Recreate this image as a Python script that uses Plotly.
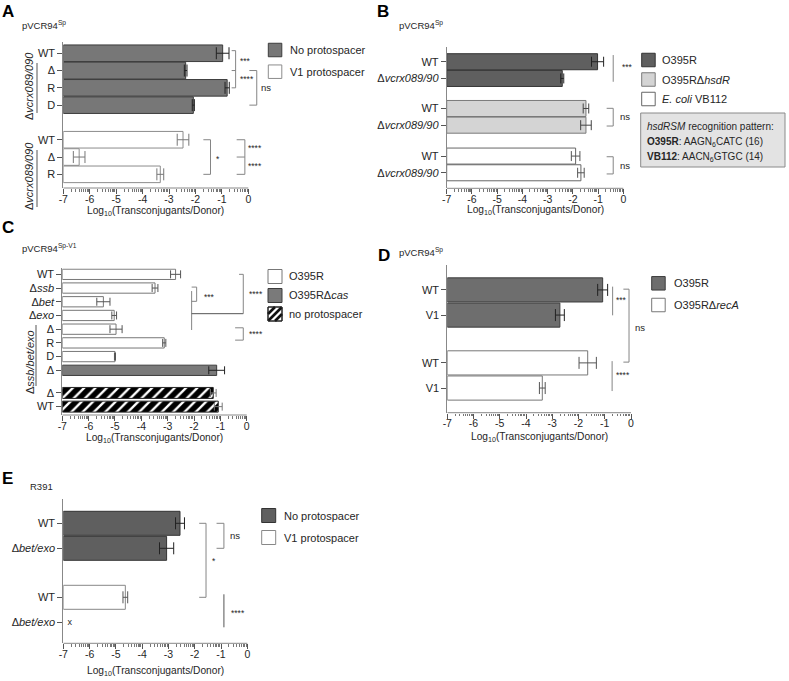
import math
import plotly.graph_objects as go

W, H = 789, 681
FONT = "Liberation Sans, Arial, Helvetica, sans-serif"
TXT = "#262626"

# ======================= DATA (log10 transconjugants/donor) =======================
# Panel A  (pVCR94Sp)
a_nop_labels = ["WT", "Δ", "R", "D"]
a_nop_vals = [-0.97, -2.37, -0.80, -2.08]
a_nop_err = [0.24, 0.05, 0.08, 0.04]
a_v1_labels = ["WT", "Δ", "R"]
a_v1_vals = [-2.47, -6.40, -3.33]
a_v1_err = [0.22, 0.22, 0.13]

# Panel B  (pVCR94Sp)
b_labels = ["WT", "Δ<i>vcrx089/90</i>"]
b_o395r_vals = [-1.02, -2.42]
b_o395r_err = [0.24, 0.06]
b_hsdr_vals = [-1.48, -1.48]
b_hsdr_err = [0.11, 0.21]
b_vb112_vals = [-1.89, -1.68]
b_vb112_err = [0.17, 0.13]

# Panel C  (pVCR94Sp-V1)
c_white_labels = ["WT", "Δ<i>ssb</i>", "Δ<i>bet</i>", "Δ<i>exo</i>", "Δ", "R", "D"]
c_white_vals = [-2.70, -3.48, -5.44, -5.03, -4.96, -3.13, -5.00]
c_white_err = [0.19, 0.11, 0.25, 0.09, 0.23, 0.06, 0.02]
c_cas_labels = ["Δ"]
c_cas_vals = [-1.14]
c_cas_err = [0.30]
c_nop_labels = ["Δ", "WT"]
c_nop_vals = [-1.27, -1.08]
c_nop_err = [0.11, 0.15]

# Panel D  (pVCR94Sp)
d_labels = ["WT", "V1"]
d_o395r_vals = [-1.08, -2.71]
d_o395r_err = [0.19, 0.17]
d_reca_vals = [-1.65, -3.38]
d_reca_err = [0.33, 0.11]

# Panel E  (R391)
e_labels = ["WT", "Δ<i>bet/exo</i>"]
e_nop_vals = [-2.56, -3.07]
e_nop_err = [0.17, 0.27]
e_v1_vals = [-4.64]
e_v1_err = [0.09]
e_v1_undetected = [-6.75]   # 'x' marker: no transconjugants

x_ticks = list(range(-7, 1))
x_ticktext = [str(t) for t in x_ticks]

# ======================= LAYOUT GEOMETRY =======================
XMIN = -7
EXT = 0.6
minor_vals = [d + math.log10(k) for d in range(-7, 0) for k in range(2, 10)]

panels = {
    1: dict(x0=63.3, x1=248.3, top=42, bot=188, yr=(-0.65, 7.79)),
    2: dict(x0=446.7, x1=623.3, top=46.7, bot=188.3, yr=(-0.9, 7.58)),
    3: dict(x0=62.3, x1=246.7, top=268.3, bot=415, yr=(-0.44, 10.26)),
    4: dict(x0=447.3, x1=631, top=265, bot=412.7, yr=(-0.99, 4.88)),
    5: dict(x0=63.3, x1=247.3, top=499.3, bot=643.3, yr=(-0.96, 4.8)),
}

# bar slots along each categorical (numeric) y axis
a_nop_pos, a_v1_pos = [0, 1, 2, 3], [5, 6, 7]
b_o_pos, b_h_pos, b_v_pos = [0, 1], [2.8, 3.8], [5.65, 6.65]
c_w_pos, c_c_pos, c_n_pos = [0, 1, 2, 3, 4, 5, 6], [7], [8.65, 9.65]
d_o_pos, d_r_pos = [0, 1], [2.9, 3.9]
e_n_pos, e_v_pos = [0, 1], [2.96, 3.96]

yticks = {
    1: (a_nop_pos + a_v1_pos, a_nop_labels + a_v1_labels),
    2: (b_o_pos + b_h_pos + b_v_pos, b_labels * 3),
    3: (c_w_pos + c_c_pos + c_n_pos, c_white_labels + c_cas_labels + c_nop_labels),
    4: (d_o_pos + d_r_pos, d_labels * 2),
    5: (e_n_pos + e_v_pos, e_labels * 2),
}


def sfx(n):
    return "" if n == 1 else str(n)


def px(x):
    return x / W


def py(y):
    return 1 - y / H


fig = go.Figure()


def add_bars(n, pos, vals, errs, fill, line, errcolor, capw, width, pattern=None):
    marker = dict(color=fill, line=dict(color=line, width=1))
    if pattern:
        marker["pattern"] = pattern
    fig.add_trace(go.Bar(
        orientation="h", y=pos, x=[v - XMIN for v in vals], base=XMIN,
        width=width, marker=marker,
        error_x=dict(type="data", array=errs, visible=True, color=errcolor,
                     thickness=1, width=capw),
        xaxis="x" + sfx(n), yaxis="y" + sfx(n), showlegend=False, hoverinfo="skip"))


# Panel A
add_bars(1, a_nop_pos, a_nop_vals, a_nop_err, "#777777", "#3c3c3c", "#222222", 6, 0.96)
add_bars(1, a_v1_pos, a_v1_vals, a_v1_err, "white", "#8c8c8c", "#777777", 6, 0.96)
# Panel B
add_bars(2, b_o_pos, b_o395r_vals, b_o395r_err, "#5f5f5f", "#333333", "#222222", 5, 0.96)
add_bars(2, b_h_pos, b_hsdr_vals, b_hsdr_err, "#d4d4d4", "#7a7a7a", "#444444", 5, 0.96)
add_bars(2, b_v_pos, b_vb112_vals, b_vb112_err, "white", "#666666", "#555555", 5, 0.96)
# Panel C
add_bars(3, c_w_pos, c_white_vals, c_white_err, "white", "#777777", "#555555", 4, 0.75)
add_bars(3, c_c_pos, c_cas_vals, c_cas_err, "#7a7a7a", "#3c3c3c", "#222222", 4, 0.75)
add_bars(3, c_n_pos, c_nop_vals, c_nop_err, "white", "#222222", "#777777", 4, 0.8,
         pattern=dict(shape="/", fgcolor="#000000", bgcolor="white", fgopacity=1,
                      size=8, solidity=0.7))
# Panel D
add_bars(4, d_o_pos, d_o395r_vals, d_o395r_err, "#6e6e6e", "#3c3c3c", "#222222", 6, 0.96)
add_bars(4, d_r_pos, d_reca_vals, d_reca_err, "white", "#777777", "#555555", 6, 0.96)
# Panel E
add_bars(5, e_n_pos, e_nop_vals, e_nop_err, "#5f5f5f", "#333333", "#222222", 6, 0.96)
add_bars(5, e_v_pos[:1], e_v1_vals, e_v1_err, "white", "#888888", "#555555", 6, 0.96)
fig.add_trace(go.Scatter(x=e_v1_undetected, y=e_v_pos[1:], mode="text", text=["x"],
                         textfont=dict(size=9, color=TXT), xaxis="x5", yaxis="y5",
                         showlegend=False, hoverinfo="skip"))

layout = dict(width=W, height=H, margin=dict(l=0, r=0, t=0, b=0),
              paper_bgcolor="white", plot_bgcolor="rgba(0,0,0,0)",
              barmode="overlay", showlegend=False,
              font=dict(family=FONT, size=11, color=TXT))
shapes, annos = [], []

for n, p in panels.items():
    s = sfx(n)
    scale = (p["x1"] - p["x0"]) / 7
    layout["xaxis" + s] = dict(
        domain=[px(p["x0"]), px(p["x1"] + EXT * scale)], range=[XMIN, EXT],
        anchor="y" + s, tickmode="array", tickvals=x_ticks, ticktext=x_ticktext,
        ticks="outside", ticklen=5, tickcolor="#555555", showline=False,
        showgrid=False, zeroline=False, tickfont=dict(size=10.5, color=TXT),
        ticklabelstandoff=-4,
        minor=dict(tickvals=minor_vals, ticks="outside", ticklen=2.5,
                   tickcolor="#777777", showgrid=False),
        fixedrange=True, automargin=False)
    tv, tt = yticks[n]
    layout["yaxis" + s] = dict(
        domain=[py(p["bot"]), py(p["top"])], range=[p["yr"][1], p["yr"][0]],
        anchor="x" + s, tickmode="array", tickvals=tv, ticktext=tt,
        ticks="outside", ticklen=5, tickcolor="#555555", showline=True,
        linecolor="#888888", linewidth=1, showgrid=False, zeroline=False,
        tickfont=dict(size=11, color=TXT), fixedrange=True, automargin=False)
    # x axis line only over -7..0
    shapes.append(dict(type="line", xref="x" + s, yref="y" + s + " domain",
                       x0=XMIN, x1=0, y0=0, y1=0, line=dict(color="#888888", width=1)))

# axis titles
title_y = {1: 212, 2: 211, 3: 438, 4: 437.5, 5: 671.5}
for n, ty in title_y.items():
    annos.append(dict(xref="x" + sfx(n), yref="paper", x=-3.5, y=py(ty),
                      text="Log<sub>10</sub>(Transconjugants/Donor)", showarrow=False,
                      xanchor="center", yanchor="middle", font=dict(size=10.2, color=TXT)))

# panel letters and plasmid names
for letter, x, y in [("A", 0, 11), ("B", 375, 11), ("C", 0, 228), ("D", 376, 255), ("E", 0, 478)]:
    annos.append(dict(xref="paper", yref="paper", x=px(x), y=py(y), text="<b>%s</b>" % letter,
                      showarrow=False, xanchor="left", yanchor="middle",
                      font=dict(size=17, color="black")))
for txt, x, y in [("pVCR94<sup>Sp</sup>", 20, 25), ("pVCR94<sup>Sp</sup>", 397, 25),
                  ("pVCR94<sup>Sp-V1</sup>", 20, 248), ("pVCR94<sup>Sp</sup>", 397, 252),
                  ("R391", 28, 486)]:
    annos.append(dict(xref="paper", yref="paper", x=px(x), y=py(y), text=txt,
                      showarrow=False, xanchor="left", yanchor="middle",
                      font=dict(size=9.5, color=TXT)))

# rotated group labels with their lines
for txt, x, yc, lx, l0, l1 in [("Δ<i>vcrx089/090</i>", 29, 86, 37, 63, 113),
                               ("Δ<i>vcrx089/090</i>", 29, 176, 37, 150, 207),
                               ("Δ<i>ssb/bet/exo</i>", 30, 362, 36, 325, 386)]:
    annos.append(dict(xref="paper", yref="paper", x=px(x), y=py(yc), text=txt,
                      textangle=-90, showarrow=False, xanchor="center", yanchor="middle",
                      font=dict(size=11, color=TXT)))
    shapes.append(dict(type="line", xref="paper", yref="paper", x0=px(lx), x1=px(lx),
                       y0=py(l0), y1=py(l1), line=dict(color="#555555", width=1)))

# significance brackets (data units)
BR = dict(color="#858585", width=1)


def seg(n, x0, y0, x1, y1, color=None):
    s = sfx(n)
    line = dict(BR) if color is None else dict(color=color, width=1)
    shapes.append(dict(type="line", xref="x" + s, yref="y" + s, x0=x0, y0=y0, x1=x1, y1=y1,
                       line=line))


def bracket(n, xt, xv, ys):
    for y in ys:
        seg(n, xt, y, xv, y)
    seg(n, xv, min(ys), xv, max(ys))


def star(n, x, y, txt, size=8.5):
    annos.append(dict(xref="x" + sfx(n), yref="y" + sfx(n), x=x, y=y, text=txt,
                      showarrow=False, xanchor="left", yanchor="middle",
                      font=dict(size=size, color=TXT)))


# A
bracket(1, -0.63, -0.48, [-0.15, 1.0, 2.0])
star(1, -0.40, 0.45, "***")
star(1, -0.40, 1.5, "****")
bracket(1, 0.04, 0.32, [1.0, 3.0])
star(1, 0.40, 2.0, "ns", 9.5)
bracket(1, -1.70, -1.43, [5, 7])
star(1, -1.30, 6.1, "*")
bracket(1, -0.44, -0.13, [5, 6, 7])
star(1, -0.08, 5.5, "****")
star(1, -0.08, 6.5, "****")
# B
seg(2, -0.40, -0.4, -0.40, 1.2)
star(2, -0.12, 0.3, "***")
bracket(2, -0.66, -0.40, [2.79, 3.85])
star(2, -0.2, 3.3, "ns", 9.5)
bracket(2, -0.66, -0.40, [5.69, 6.72])
star(2, -0.2, 6.2, "ns", 9.5)
# C
bracket(3, -2.09, -1.90, [0.93, 1.97])
seg(3, -2.09, 1.22, -2.09, 4.06)
seg(3, -2.09, 2.87, -0.13, 2.87, "#555555")
seg(3, -0.29, 0, -0.13, 0)
seg(3, -0.13, 0, -0.13, 2.87)
star(3, -1.70, 1.66, "***")
star(3, 0.0, 1.46, "****")
bracket(3, -0.44, -0.13, [3.9, 4.8])
star(3, 0.0, 4.35, "****")
# D
seg(4, -0.70, -0.13, -0.70, 1.01)
star(4, -0.63, 0.42, "***")
bracket(4, -0.29, -0.075, [-0.03, 2.87])
star(4, 0.06, 1.51, "ns", 9.5)
seg(4, -0.72, 2.83, -0.72, 4.02)
star(4, -0.63, 3.4, "****")
# E
bracket(5, -1.17, -0.89, [0, 1])
star(5, -0.72, 0.47, "ns", 9.5)
bracket(5, -1.83, -1.57, [0, 2.96])
star(5, -1.42, 1.5, "*")
seg(5, -0.89, 2.84, -0.89, 4.16, "#555555")
star(5, -0.70, 3.6, "****")


# manual legends
def legend_item(xl, yc, size, fill, line, text, xt, hatch=False):
    shapes.append(dict(type="rect", xref="paper", yref="paper", x0=px(xl), x1=px(xl + size),
                       y0=py(yc + size / 2), y1=py(yc - size / 2), fillcolor=fill,
                       line=dict(color=line, width=1)))
    if hatch:
        T, L, S = yc - size / 2, xl, size
        for (ax, ay, bx, by) in [(L, T + S * 0.5, L + S * 0.5, T),
                                 (L + 0.5, T + S - 0.5, L + S - 0.5, T + 0.5),
                                 (L + S * 0.5, T + S, L + S, T + S * 0.5)]:
            shapes.append(dict(type="line", xref="paper", yref="paper", x0=px(ax), y0=py(ay),
                               x1=px(bx), y1=py(by), line=dict(color="#111111", width=2.6)))
        shapes.append(dict(type="rect", xref="paper", yref="paper", x0=px(xl), x1=px(xl + size),
                           y0=py(yc + size / 2), y1=py(yc - size / 2),
                           line=dict(color="#222222", width=1)))
    annos.append(dict(xref="paper", yref="paper", x=px(xt), y=py(yc), text=text,
                      showarrow=False, xanchor="left", yanchor="middle",
                      font=dict(size=11, color=TXT)))


legend_item(268.3, 50, 13.5, "#777777", "#3c3c3c", "No protospacer", 288)
legend_item(268.3, 71.7, 13.5, "white", "#8c8c8c", "V1 protospacer", 288)

legend_item(641.7, 60, 13.5, "#5f5f5f", "#333333", "O395R", 660)
legend_item(641.7, 79.5, 13.5, "#d4d4d4", "#7a7a7a", "O395RΔ<i>hsdR</i>", 660)
legend_item(641.7, 99, 13.5, "white", "#666666", "<i>E. coli</i> VB112", 660)

legend_item(268, 276.5, 14, "white", "#777777", "O395R", 287)
legend_item(268, 295.5, 14, "#7a7a7a", "#3c3c3c", "O395RΔ<i>cas</i>", 287)
legend_item(268, 314, 14, "white", "#222222", "no protospacer", 287, hatch=True)

legend_item(651.7, 283.3, 13.5, "#6e6e6e", "#3c3c3c", "O395R", 671.5)
legend_item(651.7, 305, 13.5, "white", "#777777", "O395RΔ<i>recA</i>", 671.5)

legend_item(261.7, 515.5, 14, "#5f5f5f", "#333333", "No protospacer", 281.7)
legend_item(261.7, 537.5, 14, "white", "#888888", "V1 protospacer", 281.7)

# hsdRSM info box (panel B)
shapes.append(dict(type="rect", xref="paper", yref="paper", x0=px(640.7), x1=px(785),
                   y0=py(167), y1=py(113), fillcolor="#e3e3e3",
                   line=dict(color="#8a8a8a", width=1)))
for txt, y in [("<i>hsdRSM</i> recognition pattern:", 126.7),
               ("<b>O395R</b>: AAGN<sub>6</sub>CATC (16)", 141.7),
               ("<b>VB112</b>: AACN<sub>6</sub>GTGC (14)", 157)]:
    annos.append(dict(xref="paper", yref="paper", x=px(645), y=py(y), text=txt,
                      showarrow=False, xanchor="left", yanchor="middle",
                      font=dict(size=10, color=TXT)))

layout["shapes"] = shapes
layout["annotations"] = annos
fig.update_layout(**layout)
fig.write_html("out.html", config={"displayModeBar": False},
               post_script="document.body.style.margin='0';document.body.style.padding='0';"
                           "document.body.style.overflow='hidden';")
